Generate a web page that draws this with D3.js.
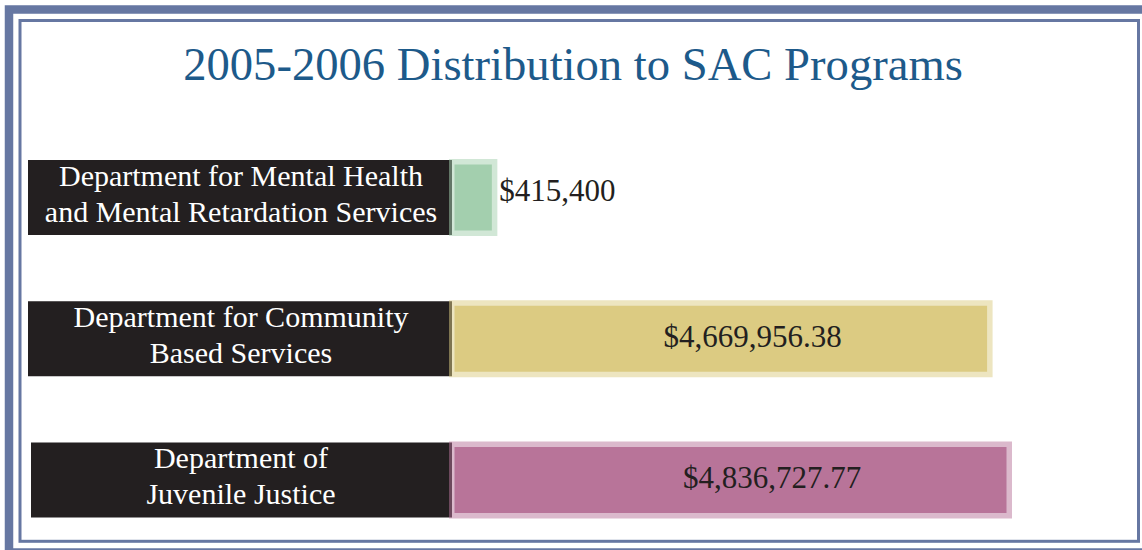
<!DOCTYPE html>
<html lang="en">
<head>
    <meta charset="UTF-8">
    <title>2005-2006 Distribution to SAC Programs</title>
    <script src="https://d3js.org/d3.v7.min.js"></script>
    <style>
        * {
            margin: 0;
            padding: 0;
            box-sizing: border-box;
        }
        body {
            background: #ffffff;
            font-family: "Liberation Serif", "DejaVu Serif", serif;
        }
        svg {
            display: block;
        }
    </style>
</head>
<body>
    <div id="chart"></div>
    <script>
        // data
        const categories = [
            ["Department for Mental Health", "and Mental Retardation Services"],
            ["Department for Community", "Based Services"],
            ["Department of", "Juvenile Justice"]
        ];
        const amounts = [415400, 4669956.38, 4836727.77];
        const valueLabels = ["$415,400", "$4,669,956.38", "$4,836,727.77"];
        const barColors = ["#a3cfae", "#dccb82", "#b87499"];
        const title = "2005-2006 Distribution to SAC Programs";

        const width = 1142,
              height = 550;

        const frameColor = "#6677a2",
              boxColor = "#231f20",
              titleColor = "#1d5a8a";

        const svg = d3.select("#chart")
            .append("svg")
            .attr("width", width)
            .attr("height", height);

        svg.append("rect")
            .attr("width", width)
            .attr("height", height)
            .attr("fill", "#ffffff");

        // double frame
        svg.append("rect")
            .attr("x", 9)
            .attr("y", 9.5)
            .attr("width", 1150)
            .attr("height", 543)
            .attr("fill", "none")
            .attr("stroke", frameColor)
            .attr("stroke-width", 8.5);

        svg.append("rect")
            .attr("x", 20)
            .attr("y", 20.5)
            .attr("width", 1118.5)
            .attr("height", 520.8)
            .attr("fill", "none")
            .attr("stroke", frameColor)
            .attr("stroke-width", 3);

        // title, sized to the width it has in the reference
        const titleText = svg.append("text")
            .attr("x", 573)
            .attr("y", 80)
            .attr("text-anchor", "middle")
            .attr("fill", titleColor)
            .style("font-size", "40px")
            .text(title);
        const tw = titleText.node().getComputedTextLength();
        titleText.style("font-size", (40 * 780 / tw) + "px");

        const idx = d3.range(categories.length);

        const y = d3.scalePoint()
            .domain(idx)
            .range([197.5, 480]);

        const x = d3.scaleLinear()
            .domain([0, d3.max(amounts)])
            .range([449, 1012]);

        const boxLeft = [28, 28, 31],
              boxRight = 452,
              boxHalf = 37.5,
              barHalf = 38.5,
              inset = 5.5;

        const rows = svg.selectAll(".row")
            .data(idx)
            .join("g")
            .attr("class", "row");

        // black category boxes
        rows.append("rect")
            .attr("x", i => boxLeft[i])
            .attr("y", i => y(i) - boxHalf)
            .attr("width", i => boxRight - boxLeft[i])
            .attr("height", boxHalf * 2)
            .attr("fill", boxColor);

        // bars: light translucent edge, solid inside
        rows.append("rect")
            .attr("x", x(0))
            .attr("y", i => y(i) - barHalf)
            .attr("width", i => x(amounts[i]) - x(0))
            .attr("height", barHalf * 2)
            .attr("fill", i => barColors[i])
            .attr("fill-opacity", 0.5);

        rows.append("rect")
            .attr("x", x(0) + inset)
            .attr("y", i => y(i) - barHalf + inset)
            .attr("width", i => x(amounts[i]) - x(0) - inset * 2)
            .attr("height", (barHalf - inset) * 2)
            .attr("fill", i => barColors[i]);

        // category labels (two lines each)
        const labels = rows.append("text")
            .attr("text-anchor", "middle")
            .attr("fill", "#ffffff")
            .style("font-size", "27px");

        labels.selectAll("tspan")
            .data(i => categories[i].map((t, k) => ({ t, k, i })))
            .join("tspan")
            .attr("x", 241)
            .attr("y", d => y(d.i) + (d.k === 0 ? -12 : 24))
            .text(d => d.t);

        // fit label font so the longest line matches the reference width
        let maxW = 0;
        labels.selectAll("tspan").each(function () {
            maxW = Math.max(maxW, this.getComputedTextLength());
        });
        labels.style("font-size", Math.min(30, 27 * 398 / maxW) + "px");

        // value labels: outside the bar when it is short, inside otherwise
        const isShort = i => x(amounts[i]) - x(0) < 200;

        rows.append("text")
            .attr("fill", boxColor)
            .style("font-size", "31px")
            .attr("text-anchor", i => (isShort(i) ? "start" : "middle"))
            .attr("x", i => (isShort(i) ? x(amounts[i]) + 2 : x(amounts[i]) - 240))
            .attr("y", i => y(i) + (isShort(i) ? 3 : 8))
            .text(i => valueLabels[i]);
    </script>
</body>
</html>
